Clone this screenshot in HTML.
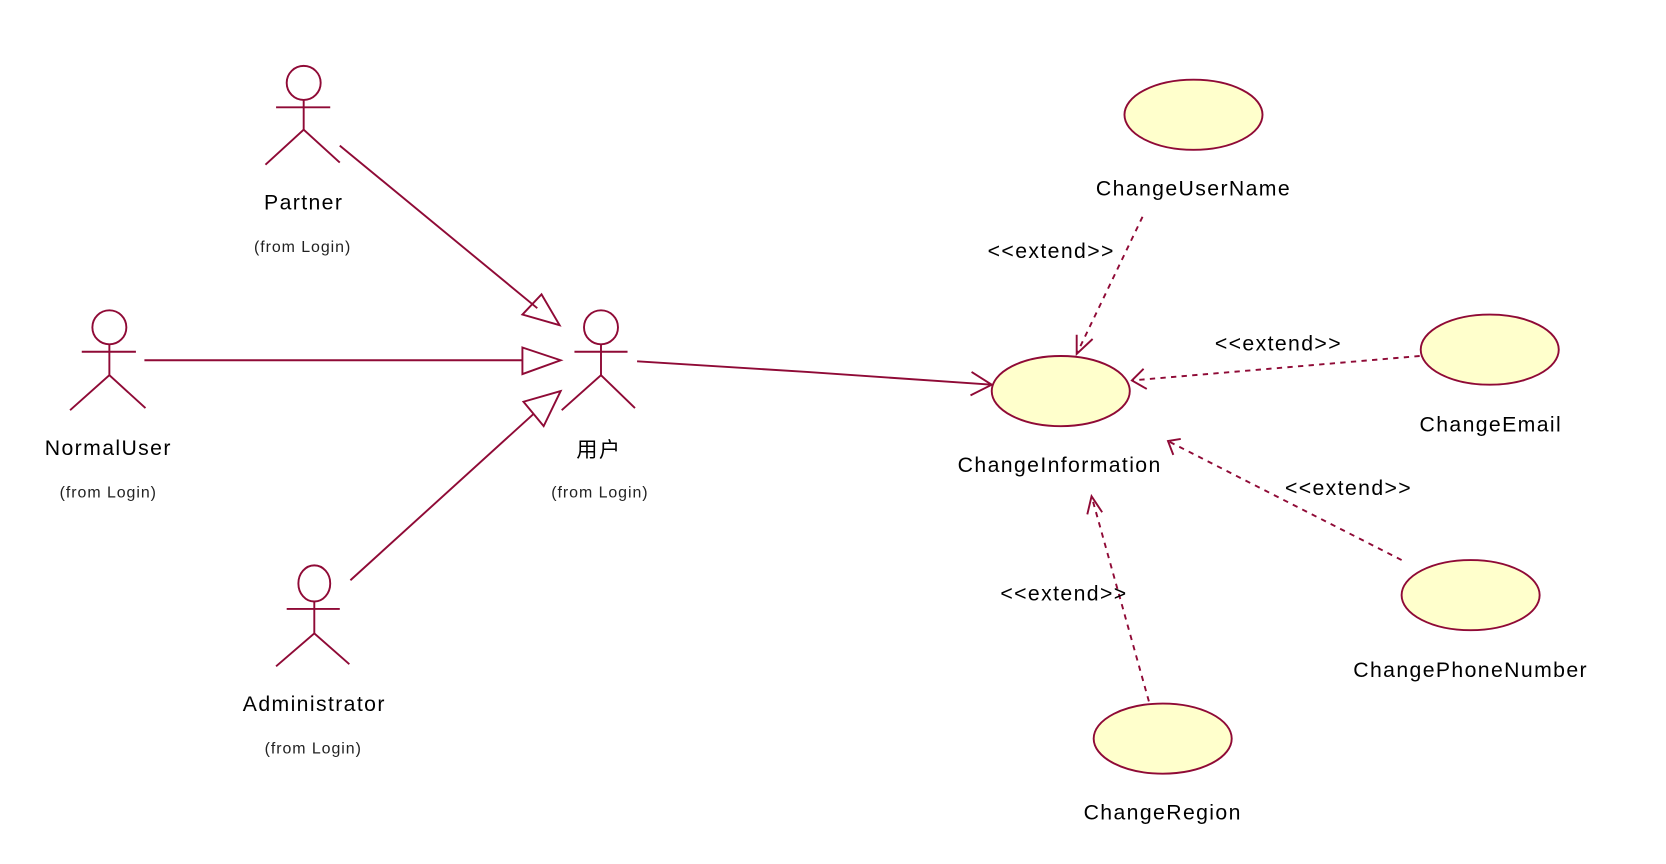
<!DOCTYPE html>
<html><head><meta charset="utf-8"><style>
html,body{margin:0;padding:0;background:#fff;}
svg{display:block;}
text{font-family:"Liberation Sans","Noto Sans CJK SC",sans-serif;fill:#000;}
.t{font-size:20px;letter-spacing:1.3px;}
.s{font-size:15px;fill:#222;letter-spacing:0.9px;}
</style></head><body>
<svg width="1666" height="864" viewBox="0 0 1569 813" preserveAspectRatio="none" xmlns="http://www.w3.org/2000/svg">
<g stroke="#8f0a36" stroke-width="1.8" fill="none">
<!-- Partner -->
<circle cx="286" cy="78" r="16"/><line x1="260" y1="101" x2="311" y2="101"/><line x1="286" y1="94" x2="286" y2="122"/><polyline points="250,155 286,122 320,153"/>
<!-- NormalUser -->
<circle cx="103" cy="308" r="16"/><line x1="77" y1="331" x2="128" y2="331"/><line x1="103" y1="324" x2="103" y2="353"/><polyline points="66,386 103,353 137,384"/>
<!-- 用户 -->
<circle cx="566" cy="308" r="16"/><line x1="541" y1="331" x2="591" y2="331"/><line x1="566" y1="324" x2="566" y2="353"/><polyline points="529,386 566,353 598,384"/>
<!-- Administrator -->
<ellipse cx="296" cy="549" rx="15" ry="17"/><line x1="270" y1="573" x2="320" y2="573"/><line x1="296" y1="566" x2="296" y2="596"/><polyline points="260,627 296,596 329,625"/>
<!-- generalizations -->
<line x1="320" y1="137" x2="506" y2="290"/><polygon points="527,306 492,296 510,277"/>
<line x1="136" y1="339" x2="492" y2="339"/><polygon points="492,327 528,339 492,352"/>
<line x1="330" y1="546" x2="503" y2="389"/><polygon points="528,368 493,378 512,401"/>
<!-- association -->
<polyline points="600,340 760,350 934,362"/><polyline points="915,350 934,362 914,372"/>
<!-- ellipses -->
<g fill="#ffffcc">
<ellipse cx="1124" cy="108" rx="65" ry="33"/>
<ellipse cx="999" cy="368" rx="65" ry="33"/>
<ellipse cx="1403" cy="329" rx="65" ry="33"/>
<ellipse cx="1385" cy="560" rx="65" ry="33"/>
<ellipse cx="1095" cy="695" rx="65" ry="33"/>
</g>
<!-- extends -->
<g stroke-dasharray="5,5">
<line x1="1076" y1="204" x2="1014" y2="333"/>
<line x1="1337" y1="335" x2="1066" y2="358"/>
<line x1="1320" y1="527" x2="1100" y2="415"/>
<line x1="1082" y1="660" x2="1028" y2="467"/>
</g>
<polyline points="1014,315 1014,333 1029,319"/>
<polyline points="1077,347 1066,358 1080,366"/>
<polyline points="1112,413 1100,415 1105,428"/>
<polyline points="1024,484 1028,467 1038,482"/>
</g>
<g text-anchor="middle">
<text class="t" x="286" y="197">Partner</text><text class="s" x="285" y="237">(from Login)</text>
<text class="t" x="102" y="428">NormalUser</text><text class="s" x="102" y="468">(from Login)</text>
<text class="t" x="564" y="430">用户</text><text class="s" x="565" y="468">(from Login)</text>
<text class="t" x="296" y="669">Administrator</text><text class="s" x="295" y="709">(from Login)</text>
<text class="t" x="1124" y="184">ChangeUserName</text>
<text class="t" x="998" y="444">ChangeInformation</text>
<text class="t" x="1404" y="406">ChangeEmail</text>
<text class="t" x="1385" y="637">ChangePhoneNumber</text>
<text class="t" x="1095" y="771">ChangeRegion</text>
<text class="t" x="990" y="243">&lt;&lt;extend&gt;&gt;</text>
<text class="t" x="1204" y="330">&lt;&lt;extend&gt;&gt;</text>
<text class="t" x="1270" y="466">&lt;&lt;extend&gt;&gt;</text>
<text class="t" x="1002" y="565">&lt;&lt;extend&gt;&gt;</text>
</g>
</svg>
</body></html>
